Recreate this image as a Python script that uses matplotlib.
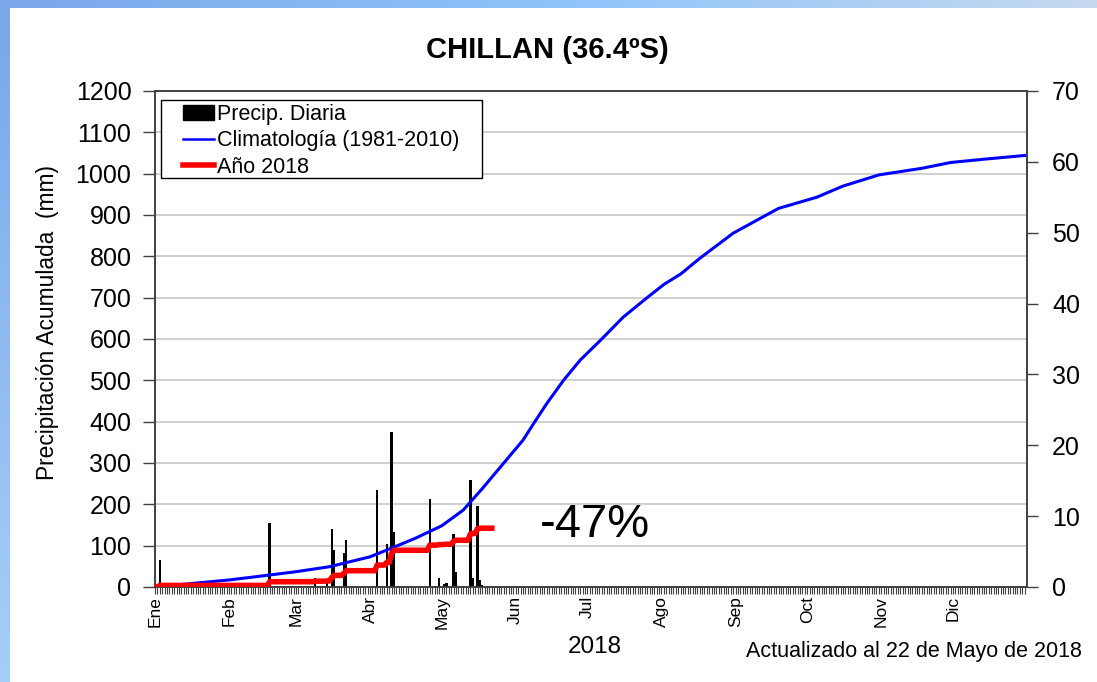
import numpy as np
import matplotlib.pyplot as plt
from matplotlib.patches import Patch, Rectangle
from matplotlib.lines import Line2D
from matplotlib.colors import LinearSegmentedColormap

plt.rcParams['font.family'] = ['Liberation Sans', 'DejaVu Sans']

# Daily precipitation 2018 (mm) by day of year
rain_days = [3, 49, 68, 73, 75, 76, 80, 81, 94, 98, 100, 101, 116, 120, 122, 123,
             126, 127, 133, 134, 136, 137, 138]
rain_mm = [3.8, 9.0, 1.3, 0.5, 8.2, 5.2, 4.8, 6.6, 13.7, 6.1, 21.9, 7.8, 12.4, 1.3,
           0.4, 0.5, 7.5, 2.1, 15.1, 1.3, 11.5, 1.0, 0.3]
last_day = 142  # 22 de mayo

# Climatology 1981-2010, accumulated (mm)
clim_days = [1, 32, 49, 60, 74, 91, 100, 110, 121, 130, 138, 147, 155, 160, 165, 172,
             179, 188, 197, 207, 214, 221, 229, 243, 262, 278, 289, 304, 322, 334, 348, 365]
clim_mm = [0, 17, 29, 37, 49, 73, 94, 118, 148, 186, 238, 300, 355, 400, 444, 500,
           549, 600, 653, 700, 732, 757, 795, 856, 916, 943, 970, 997, 1013, 1027, 1035, 1044]

month_start = [1, 32, 60, 91, 121, 152, 182, 213, 244, 274, 305, 335]
month_names = ['Ene', 'Feb', 'Mar', 'Abr', 'May', 'Jun', 'Jul', 'Ago', 'Sep', 'Oct', 'Nov', 'Dic']

# accumulated 2018
days = np.arange(1, last_day + 1)
daily = np.zeros(last_day)
for d, v in zip(rain_days, rain_mm):
    daily[d - 1] = v
acum = np.cumsum(daily)

fig = plt.figure(figsize=(10.97, 6.82), dpi=100)

# blue frame at top and left
top = fig.add_axes([0, 1 - 8 / 682, 1, 8 / 682])
top.imshow(np.linspace(0, 1, 256)[None, :], aspect='auto',
           cmap=LinearSegmentedColormap.from_list('t', ['#7ba7e9', '#8dc3fb', '#c5d9ee']))
top.axis('off')
left = fig.add_axes([0, 0, 10 / 1097, 1 - 8 / 682])
left.imshow(np.linspace(0, 1, 256)[:, None], aspect='auto',
            cmap=LinearSegmentedColormap.from_list('l', ['#7ba7e9', '#a6cff7']))
left.axis('off')

ax = fig.add_axes([155 / 1097, 1 - 587 / 682, 872 / 1097, 496 / 682])
ax2 = ax.twinx()

ax.set_xlim(1, 366)
ax.set_ylim(0, 1200)
ax.set_yticks(range(0, 1201, 100))
ax.grid(axis='y', color='#c8c8c8', lw=1.2)
ax.set_axisbelow(True)

ax2.bar(rain_days, rain_mm, width=1.0, color='black', zorder=2)
ax2.plot(clim_days, clim_mm, color='blue', lw=2.2, transform=ax.transData, zorder=3)
ax2.plot(days, acum, color='red', lw=4, transform=ax.transData, zorder=4)
ax2.set_ylim(0, 70)
ax2.set_yticks(range(0, 71, 10))

ax.set_xticks(month_start)
ax.set_xticklabels(month_names, rotation=90, fontsize=12.5)
ax.set_xticks(range(1, 366), minor=True)
ax.tick_params(axis='x', which='both', length=5, width=0.8, pad=1.5, color='#404040')
ax.tick_params(axis='y', length=9, width=1, labelsize=18, pad=8, color='#404040')
ax2.tick_params(axis='y', length=8, width=1, labelsize=18, pad=10, color='#404040')

for a in (ax, ax2):
    for s in a.spines.values():
        s.set_color('#404040')
        s.set_linewidth(1.2)

# legend box
ax2.add_patch(Rectangle((0.0065, 0.8246), 0.3685, 0.1573, transform=ax.transAxes,
                        facecolor='white', edgecolor='black', lw=1, zorder=5))
handles = [Patch(color='black'),
           Line2D([], [], color='blue', lw=1.8),
           Line2D([], [], color='red', lw=4)]
labels = ['Precip. Diaria', 'Climatología (1981-2010)', 'Año 2018']
leg = ax2.legend(handles, labels, loc='upper left', bbox_to_anchor=(0.032, 0.974),
                 borderaxespad=0, borderpad=0, fontsize=15.5, frameon=False,
                 handlelength=1.45, handletextpad=0.15, labelspacing=0.25)
leg.set_zorder(6)

ax.text(162, 150, '-47%', fontsize=34, va='center', ha='left')

fig.text(547 / 1097, 1 - 50 / 682, 'CHILLAN (36.4ºS)', fontsize=21, fontweight='bold',
         ha='center', va='center')
fig.text(48 / 1097, 1 - 323 / 682, 'Precipitación Acumulada  (mm)', fontsize=16.4,
         rotation=90, ha='center', va='center')
fig.text(595 / 1097, 1 - 647 / 682, '2018', fontsize=17.5, ha='center', va='center')
fig.text(1082 / 1097, 1 - 651 / 682, 'Actualizado al 22 de Mayo de 2018', fontsize=15.5,
         ha='right', va='center')

fig.savefig('out.png', dpi=100)
